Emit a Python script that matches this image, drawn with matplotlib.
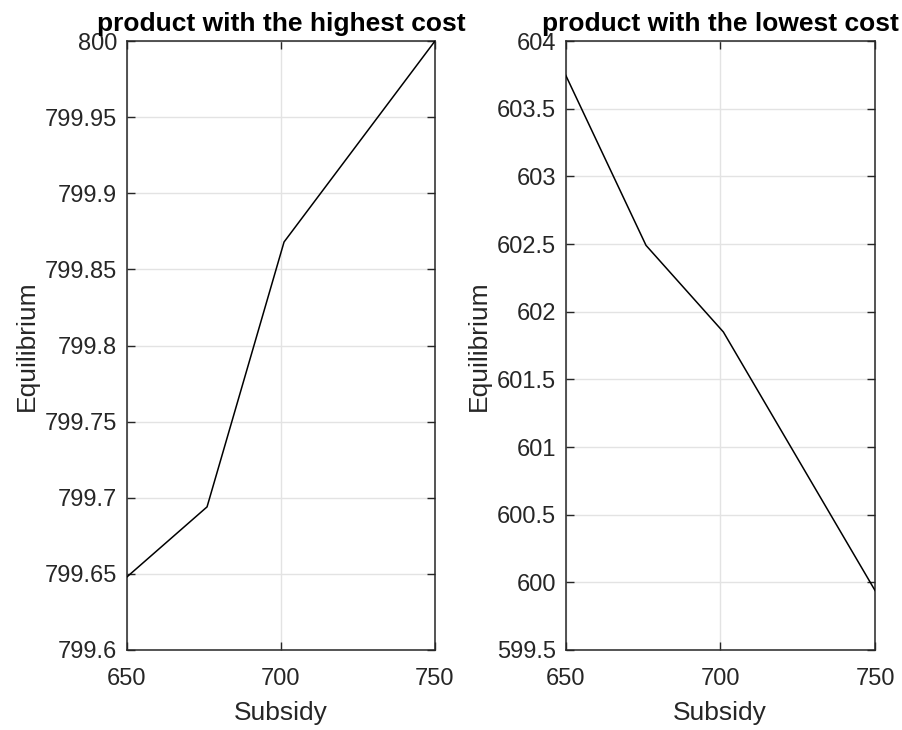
import matplotlib
matplotlib.use("Agg")
import matplotlib.pyplot as plt

# equilibrium vs subsidy for the two products
subsidy = [650, 676, 701, 750]
eq_high = [799.648, 799.694, 799.868, 800.0]
eq_low = [603.75, 602.49, 601.85, 599.94]

high_ticks = [799.6, 799.65, 799.7, 799.75, 799.8, 799.85, 799.9, 799.95, 800]
high_labels = ["799.6", "799.65", "799.7", "799.75", "799.8", "799.85", "799.9", "799.95", "800"]
low_ticks = [599.5, 600, 600.5, 601, 601.5, 602, 602.5, 603, 603.5, 604]
low_labels = ["599.5", "600", "600.5", "601", "601.5", "602", "602.5", "603", "603.5", "604"]
x_ticks = [650, 700, 750]

plt.rcParams['font.family'] = ['Liberation Sans', 'DejaVu Sans']
axcol = '#262626'

fig = plt.figure(figsize=(9.03, 7.3), dpi=100)
ax1 = fig.add_axes([0.1406, 0.1096, 0.3411, 0.8342])
ax2 = fig.add_axes([0.6263, 0.1096, 0.3427, 0.8342])

def style(ax, y, ticks, labels, title):
	ax.plot(subsidy, y, color='black', lw=1.1, zorder=3)
	ax.set_xlim(650, 750)
	ax.set_ylim(ticks[0], ticks[-1])
	ax.set_xticks(x_ticks)
	ax.set_xticklabels([str(t) for t in x_ticks])
	ax.set_yticks(ticks)
	ax.set_yticklabels(labels)
	ax.grid(True, color='#e3e3e3', lw=1.0, zorder=0)
	ax.tick_params(direction='in', top=True, right=True, length=6, width=1.0,
		colors=axcol, labelsize=17)
	ax.tick_params(axis='y', pad=7)
	ax.tick_params(axis='x', pad=13)
	for s in ax.spines.values():
		s.set_color(axcol)
		s.set_linewidth(1.1)
	ax.set_xlabel('Subsidy', fontsize=19, color=axcol, labelpad=8)
	ax.set_ylabel('Equilibrium', fontsize=19, color=axcol, labelpad=4)
	ax.set_title(title, fontsize=19, fontweight='bold', pad=7)

style(ax1, eq_high, high_ticks, high_labels, 'product with the highest cost')
style(ax2, eq_low, low_ticks, low_labels, 'product with the lowest cost')

fig.savefig('out.png', dpi=100)
